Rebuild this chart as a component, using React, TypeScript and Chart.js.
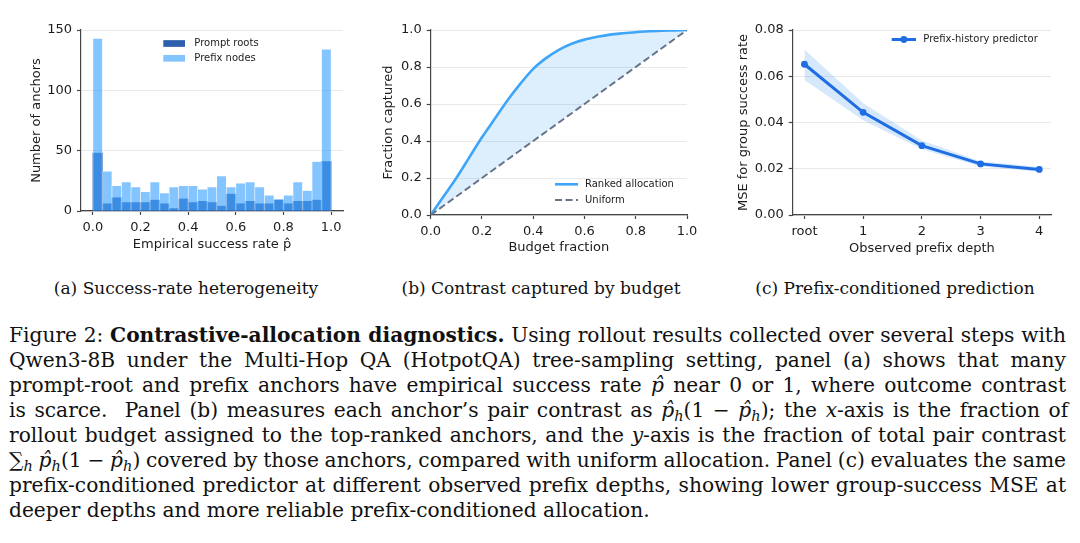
import React, { useEffect, useLayoutEffect, useRef } from 'react';
import { Chart, registerables } from 'chart.js';

Chart.register(...registerables);

// ---------------- Data ----------------
// Panel (a): histogram of empirical success rate (25 bins of width 0.04)
const histBinCenters = [0.02, 0.06, 0.10, 0.14, 0.18, 0.22, 0.26, 0.30, 0.34, 0.38, 0.42, 0.46, 0.50, 0.54, 0.58, 0.62, 0.66, 0.70, 0.74, 0.78, 0.82, 0.86, 0.90, 0.94, 0.98];
const promptRoots = [48, 6, 11, 7, 7, 7, 9, 6, 2, 10, 7, 8, 7, 4, 14, 6, 8, 6, 6, 9, 6, 8, 8, 9, 41];
const prefixNodes = [143, 33, 21, 24, 20, 16, 24, 15, 20, 21, 21, 18, 20, 29, 20, 23, 24, 20, 13, 10, 13, 24, 17, 41, 134];
const rateTicks = [0, 0.2, 0.4, 0.6, 0.8, 1.0];
const countTicks = [0, 50, 100, 150];

// Panel (b): contrast captured by budget
const budgetFraction = [0, 0.05, 0.10, 0.15, 0.20, 0.25, 0.30, 0.35, 0.40, 0.45, 0.50, 0.55, 0.60, 0.65, 0.70, 0.75, 0.80, 0.85, 0.90, 0.95, 1.00];
const rankedCaptured = [0, 0.10, 0.20, 0.31, 0.42, 0.52, 0.62, 0.71, 0.79, 0.848, 0.893, 0.926, 0.948, 0.963, 0.975, 0.982, 0.988, 0.993, 0.996, 0.998, 1.0];
const uniformCaptured = [0, 0.05, 0.10, 0.15, 0.20, 0.25, 0.30, 0.35, 0.40, 0.45, 0.50, 0.55, 0.60, 0.65, 0.70, 0.75, 0.80, 0.85, 0.90, 0.95, 1.00];
const fractionTicks = [0, 0.2, 0.4, 0.6, 0.8, 1.0];

// Panel (c): prefix-conditioned prediction
const depthPositions = [0, 1, 2, 3, 4];
const depthLabels = ['root', '1', '2', '3', '4'];
const mseMean = [0.0652, 0.0444, 0.0300, 0.0221, 0.0197];
const mseUpper = [0.0716, 0.0483, 0.0322, 0.0232, 0.0208];
const mseLower = [0.0584, 0.0410, 0.0284, 0.0210, 0.0187];
const mseTicks = [0, 0.02, 0.04, 0.06, 0.08];

// ---------------- Styling ----------------
const FONT = 'DejaVu Sans';
const AX = '#454545';
const GRID = '#e9e9e9';
const TXT = '#1c1c1c';
const tickFont = { family: FONT, size: 13 };
const titleFont = { family: FONT, size: 13 };
const HALF_LH = (13 * 1.2) / 2;

type Geo = {
  left: number; width: number; height: number;
  area: { l: number; r: number; t: number; b: number };
  yTitleX: number; xTitleY: number;
};

function yAxis(geo: Geo, min: number, max: number, ticks: number[], fmt: (v: number) => string, title: string) {
  return {
    type: 'linear', position: 'left', min, max,
    afterBuildTicks: (s: any) => { s.ticks = ticks.map((v) => ({ value: v })); },
    afterFit: (s: any) => { s.width = geo.area.l - geo.left; },
    ticks: { font: tickFont, color: TXT, padding: 5, autoSkip: false, callback: (v: any) => fmt(Number(v)) },
    grid: { color: GRID, lineWidth: 1, drawTicks: true, tickLength: 4, tickColor: AX, tickWidth: 1.2 },
    border: { display: true, color: AX, width: 1.2 },
    title: { display: true, text: title, font: titleFont, color: TXT, padding: { top: geo.yTitleX - geo.left - HALF_LH, bottom: 0 } },
  };
}

function xAxis(geo: Geo, min: number, max: number, ticks: number[], fmt: (v: number) => string, title: string) {
  return {
    type: 'linear', position: 'bottom', min, max, offset: false,
    afterBuildTicks: (s: any) => { s.ticks = ticks.map((v) => ({ value: v })); },
    afterFit: (s: any) => { s.height = geo.height - geo.area.b; },
    ticks: { font: tickFont, color: TXT, padding: 5, autoSkip: false, maxRotation: 0, callback: (v: any) => fmt(Number(v)) },
    grid: { drawOnChartArea: false, offset: false, drawTicks: true, tickLength: 4, tickColor: AX, tickWidth: 1.2 },
    border: { display: true, color: AX, width: 1.2 },
    title: { display: true, text: title, font: titleFont, color: TXT, padding: { top: 0, bottom: geo.height - geo.xTitleY - HALF_LH } },
  };
}

function layoutFor(geo: Geo) {
  return { padding: { left: 0, top: geo.area.t, right: geo.left + geo.width - geo.area.r, bottom: 0 } };
}

type LegendItem = { ds: number; kind: 'box' | 'line' | 'marker' };
function insetLegend(cfg: { x: number; y: number; gap: number; symW: number; boxH: number; textX: number; items: LegendItem[] }) {
  return {
    id: 'insetLegend',
    afterDatasetsDraw(chart: any) {
      const ctx = chart.ctx;
      ctx.save();
      ctx.font = `10px "${FONT}"`;
      ctx.textBaseline = 'middle';
      ctx.textAlign = 'left';
      cfg.items.forEach((it, i) => {
        const ds: any = chart.data.datasets[it.ds];
        const y = cfg.y + i * cfg.gap;
        if (it.kind === 'box') {
          ctx.fillStyle = ds.backgroundColor;
          ctx.fillRect(cfg.x, y - cfg.boxH / 2, cfg.symW, cfg.boxH);
        } else {
          ctx.strokeStyle = ds.borderColor;
          ctx.lineWidth = ds.borderWidth;
          ctx.setLineDash(ds.borderDash || []);
          ctx.beginPath();
          ctx.moveTo(cfg.x, y);
          ctx.lineTo(cfg.x + cfg.symW, y);
          ctx.stroke();
          ctx.setLineDash([]);
          if (it.kind === 'marker') {
            ctx.fillStyle = ds.pointBackgroundColor;
            ctx.beginPath();
            ctx.arc(cfg.x + cfg.symW / 2, y, ds.pointRadius, 0, Math.PI * 2);
            ctx.fill();
          }
        }
        ctx.fillStyle = TXT;
        ctx.fillText(ds.label, cfg.textX, y);
      });
      ctx.restore();
    },
  };
}

// ---------------- Panel configs ----------------
const geoA: Geo = { left: 0, width: 360, height: 260, area: { l: 81, r: 343, t: 30, b: 211 }, yTitleX: 36.7, xTitleY: 245 };
const geoB: Geo = { left: 360, width: 360, height: 260, area: { l: 430.7, r: 687, t: 30, b: 215 }, yTitleX: 388.3, xTitleY: 247.5 };
const geoC: Geo = { left: 720, width: 360, height: 260, area: { l: 792.7, r: 1051, t: 30, b: 215 }, yTitleX: 743.3, xTitleY: 248.5 };

function buildA(): any {
  return {
    type: 'bar',
    data: {
      datasets: [
        {
          label: 'Prompt roots', order: 1, grouped: false,
          data: histBinCenters.map((x, i) => ({ x, y: promptRoots[i] })),
          backgroundColor: '#2c5fae', borderWidth: 0,
          barPercentage: 1, categoryPercentage: 1,
        },
        {
          label: 'Prefix nodes', order: 0, grouped: false,
          data: histBinCenters.map((x, i) => ({ x, y: prefixNodes[i] })),
          backgroundColor: 'rgba(67,166,255,0.65)', borderWidth: 0.6, borderColor: 'rgba(255,255,255,0.45)',
          barPercentage: 1, categoryPercentage: 1,
        },
      ],
    },
    options: {
      responsive: false, animation: false, devicePixelRatio: 1,
      layout: layoutFor(geoA),
      plugins: { legend: { display: false }, tooltip: { enabled: false } },
      scales: {
        x: xAxis(geoA, -0.05, 1.05, rateTicks, (v) => v.toFixed(1), 'Empirical success rate p\u0302'),
        y: yAxis(geoA, 0, 150, countTicks, (v) => String(Math.round(v)), 'Number of anchors'),
      },
    },
    plugins: [insetLegend({ x: 163.3, y: 43.5, gap: 14.8, symW: 21.7, boxH: 6.7, textX: 194.3, items: [{ ds: 0, kind: 'box' }, { ds: 1, kind: 'box' }] })],
  };
}

function buildB(): any {
  return {
    type: 'line',
    data: {
      datasets: [
        {
          label: 'Ranked allocation', order: 1,
          data: budgetFraction.map((x, i) => ({ x, y: rankedCaptured[i] })),
          borderColor: '#3ea5f8', borderWidth: 2.6, pointRadius: 0, cubicInterpolationMode: 'monotone',
          fill: '+1', backgroundColor: 'rgba(66,165,245,0.18)',
        },
        {
          label: 'Uniform', order: 0,
          data: budgetFraction.map((x, i) => ({ x, y: uniformCaptured[i] })),
          borderColor: '#687389', borderWidth: 2, borderDash: [7, 3.5], pointRadius: 0, tension: 0, fill: false,
        },
      ],
    },
    options: {
      responsive: false, animation: false, devicePixelRatio: 1,
      layout: layoutFor(geoB),
      plugins: { legend: { display: false }, tooltip: { enabled: false } },
      scales: {
        x: xAxis(geoB, 0, 1, fractionTicks, (v) => v.toFixed(1), 'Budget fraction'),
        y: yAxis(geoB, 0, 1, fractionTicks, (v) => v.toFixed(1), 'Fraction captured'),
      },
    },
    plugins: [insetLegend({ x: 195, y: 184.3, gap: 15.7, symW: 23, boxH: 0, textX: 225, items: [{ ds: 0, kind: 'line' }, { ds: 1, kind: 'line' }] })],
  };
}

function buildC(): any {
  return {
    type: 'line',
    data: {
      datasets: [
        {
          label: 'Prefix-history predictor', order: 0,
          data: depthPositions.map((x, i) => ({ x, y: mseMean[i] })),
          borderColor: '#1f6de2', borderWidth: 3, pointRadius: 3.4, pointBackgroundColor: '#1f6de2',
          pointBorderWidth: 0, tension: 0, fill: false,
        },
        {
          label: 'upper', order: 1,
          data: depthPositions.map((x, i) => ({ x, y: mseUpper[i] })),
          borderColor: 'rgba(0,0,0,0)', borderWidth: 1, pointRadius: 0, tension: 0,
          fill: '+1', backgroundColor: 'rgba(70,150,240,0.22)',
        },
        {
          label: 'lower', order: 2,
          data: depthPositions.map((x, i) => ({ x, y: mseLower[i] })),
          borderColor: 'rgba(0,0,0,0)', borderWidth: 1, pointRadius: 0, tension: 0, fill: false,
        },
      ],
    },
    options: {
      responsive: false, animation: false, devicePixelRatio: 1,
      layout: layoutFor(geoC),
      plugins: { legend: { display: false }, tooltip: { enabled: false } },
      scales: {
        x: xAxis(geoC, -0.2, 4.2, depthPositions, (v) => depthLabels[depthPositions.indexOf(Math.round(v))] ?? '', 'Observed prefix depth'),
        y: yAxis(geoC, 0, 0.08, mseTicks, (v) => v.toFixed(2), 'MSE for group success rate'),
      },
    },
    plugins: [insetLegend({ x: 171.7, y: 39.5, gap: 15, symW: 24.3, boxH: 0, textX: 203.3, items: [{ ds: 0, kind: 'marker' }] })],
  };
}

function ChartCanvas({ geo, build }: { geo: Geo; build: () => any }) {
  const ref = useRef<HTMLCanvasElement>(null);
  useEffect(() => {
    const chart = new Chart(ref.current as HTMLCanvasElement, build());
    return () => chart.destroy();
  }, []);
  return (
    <canvas
      ref={ref}
      width={geo.width}
      height={geo.height}
      style={{ position: 'absolute', left: geo.left, top: 0, width: geo.width, height: geo.height }}
    />
  );
}

const SERIF = '"DejaVu Serif", "Liberation Serif", serif';
const CAP_LEFT = 9;
const CAP_WIDTH = 1057;

const subStyle: React.CSSProperties = { fontSize: '0.72em', verticalAlign: '-0.28em', lineHeight: 0 };
const P = () => (<i>p&#770;</i>);
const Ph = () => (<><i>p&#770;</i><sub style={subStyle}><i>h</i></sub></>);

const captionLines: React.ReactNode[] = [
  <>Figure 2: <b>Contrastive-allocation diagnostics.</b> Using rollout results collected over several steps with</>,
  <>Qwen3-8B under the Multi-Hop QA (HotpotQA) tree-sampling setting, panel (a) shows that many</>,
  <>prompt-root and prefix anchors have empirical success rate <P /> near 0 or 1, where outcome contrast</>,
  <>is scarce.&nbsp; Panel (b) measures each anchor’s pair contrast as <Ph />(1 − <Ph />); the <i>x</i>-axis is the fraction of</>,
  <>rollout budget assigned to the top-ranked anchors, and the <i>y</i>-axis is the fraction of total pair contrast</>,
  <>∑<sub style={subStyle}><i>h</i></sub> <Ph />(1 − <Ph />) covered by those anchors, compared with uniform allocation. Panel (c) evaluates the same</>,
  <>prefix-conditioned predictor at different observed prefix depths, showing lower group-success MSE at</>,
  <>deeper depths and more reliable prefix-conditioned allocation.</>,
];

const subCaptions = [
  { text: '(a) Success-rate heterogeneity', cx: 186 },
  { text: '(b) Contrast captured by budget', cx: 541 },
  { text: '(c) Prefix-conditioned prediction', cx: 895 },
];

function Caption() {
  const refs = useRef<(HTMLSpanElement | null)[]>([]);
  useLayoutEffect(() => {
    const fit = () => {
      refs.current.forEach((el, i) => {
        if (!el) return;
        el.style.wordSpacing = '0px';
        if (i === captionLines.length - 1) return;
        const w = el.getBoundingClientRect().width;
        const n = (el.textContent || '').split(' ').length - 1;
        if (n > 0) el.style.wordSpacing = `${(CAP_WIDTH - w) / n}px`;
      });
    };
    fit();
    if ((document as any).fonts && (document as any).fonts.ready) (document as any).fonts.ready.then(fit);
  }, []);
  return (
    <>
      {captionLines.map((ln, i) => (
        <div
          key={i}
          style={{
            position: 'absolute', left: CAP_LEFT, top: 323 + i * 25, width: CAP_WIDTH + 40, height: 25,
            fontFamily: SERIF, fontSize: 20.2, lineHeight: '25px', color: '#111', whiteSpace: 'nowrap',
          }}
        >
          <span ref={(el) => { refs.current[i] = el; }}>{ln}</span>
        </div>
      ))}
    </>
  );
}

export default function App() {
  return (
    <div style={{ position: 'fixed', left: 0, top: 0, width: 1080, height: 543, background: '#ffffff', overflow: 'hidden' }}>
      <ChartCanvas geo={geoA} build={buildA} />
      <ChartCanvas geo={geoB} build={buildB} />
      <ChartCanvas geo={geoC} build={buildC} />
      {subCaptions.map((s) => (
        <div
          key={s.text}
          style={{ position: 'absolute', left: s.cx - 180, top: 275.5, width: 360, textAlign: 'center', fontFamily: SERIF, fontSize: 17, lineHeight: '25px', color: '#111', whiteSpace: 'nowrap' }}
        >
          {s.text}
        </div>
      ))}
      <Caption />
    </div>
  );
}
